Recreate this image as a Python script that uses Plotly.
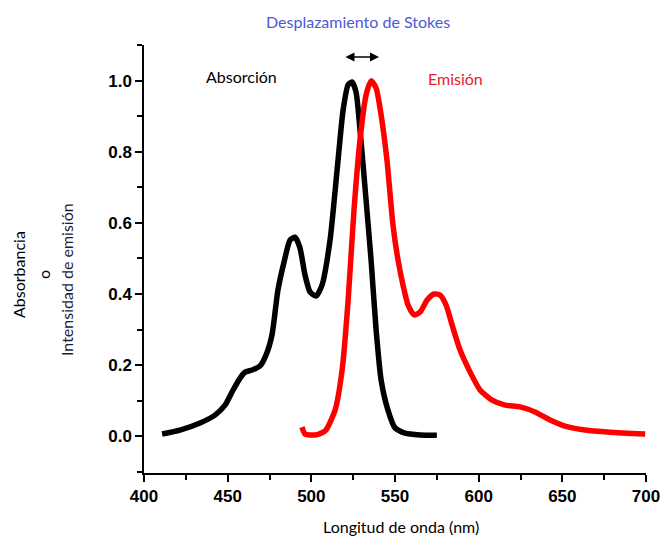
import plotly.graph_objects as go

abs_nm = [410.8, 421.5, 433.5, 442.4, 448.4, 452.6, 457.4, 460.4, 464.6, 469.3, 472.9, 476.5, 480.0, 483.7, 487.3, 490.3, 493.2, 496.2, 499.2, 502.8, 506.4, 511.2, 515.4, 519.0, 522.0, 524.3, 526.7, 529.1, 532.7, 535.7, 538.7, 541.7, 545.8, 550.0, 556.0, 565.0, 575.0]
abs_val = [0.006, 0.017, 0.037, 0.059, 0.087, 0.124, 0.163, 0.18, 0.186, 0.197, 0.228, 0.285, 0.41, 0.49, 0.552, 0.56, 0.53, 0.454, 0.406, 0.394, 0.425, 0.552, 0.749, 0.918, 0.989, 0.997, 0.969, 0.862, 0.665, 0.496, 0.3, 0.158, 0.073, 0.023, 0.008, 0.003, 0.002]

em_nm = [494.4, 496.2, 502.2, 508.2, 514.2, 518.4, 522.0, 525.5, 529.1, 532.7, 535.7, 538.7, 541.7, 545.2, 548.8, 551.8, 554.8, 557.8, 561.4, 565.0, 569.2, 573.3, 576.9, 580.5, 584.1, 588.9, 594.9, 600.8, 608.0, 615.8, 624.7, 633.7, 642.7, 651.6, 663.6, 678.5, 699.5]
em_val = [0.025, 0.006, 0.003, 0.014, 0.073, 0.186, 0.383, 0.637, 0.834, 0.96, 1.0, 0.98, 0.904, 0.777, 0.594, 0.496, 0.425, 0.369, 0.341, 0.349, 0.383, 0.4, 0.397, 0.369, 0.313, 0.242, 0.18, 0.13, 0.101, 0.087, 0.082, 0.068, 0.045, 0.028, 0.017, 0.011, 0.006]

W, H = 662, 537
L, R, T, B = 144, 16, 45, 64
pw, ph = W - L - R, H - T - B

def px(x):
    return (x - L) / pw

def py(y):
    return (H - B - y) / ph

fig = go.Figure()
fig.add_trace(go.Scatter(x=abs_nm, y=abs_val, mode="lines",
                         line=dict(color="black", width=5.5, shape="spline", smoothing=0.6),
                         showlegend=False))
fig.add_trace(go.Scatter(x=em_nm, y=em_val, mode="lines",
                         line=dict(color="#ff0000", width=5.5, shape="spline", smoothing=0.6),
                         showlegend=False))

tf = dict(family="Liberation Sans, Arial", size=17, color="black", weight="bold")
fig.update_xaxes(range=[400, 700], showline=True, linecolor="black", linewidth=1.5,
                 ticks="outside", tickcolor="black", ticklen=7, tickwidth=1.5,
                 tick0=400, dtick=50, tickfont=tf, automargin=False,
                 minor=dict(ticks="outside", dtick=25, ticklen=5, tickcolor="black", tickwidth=1.5),
                 showgrid=False, zeroline=False)
fig.update_yaxes(range=[-0.104, 1.101], showline=True, linecolor="black", linewidth=1.5,
                 ticks="outside", tickcolor="black", ticklen=7, tickwidth=1.5,
                 tick0=0, dtick=0.2, tickformat=".1f", tickfont=tf, automargin=False,
                 minor=dict(ticks="outside", dtick=0.1, ticklen=5, tickcolor="black", tickwidth=1.5),
                 showgrid=False, zeroline=False)

lab = "Lato, Open Sans, sans-serif"
ann = [
    dict(text="Desplazamiento de Stokes", x=px(358), y=py(22), font=dict(family=lab, size=16, color="#4a5bd4")),
    dict(text="Absorción", x=px(241), y=py(76), font=dict(family=lab, size=16, color="black")),
    dict(text="Emisión", x=px(455), y=py(78), font=dict(family=lab, size=16, color="#e8202a")),
    dict(text="Longitud de onda (nm)", x=px(401), y=py(526), font=dict(family=lab, size=16, color="black")),
    dict(text="Absorbancia", x=px(18), y=py(275), textangle=-90, font=dict(family=lab, size=16, color="black")),
    dict(text="o", x=px(43), y=py(275), textangle=-90, font=dict(family=lab, size=16, color="black")),
    dict(text="Intensidad de emisión", x=px(66), y=py(280), textangle=-90, font=dict(family=lab, size=16, color="#1a1a3a")),
]
for a in ann:
    a.update(xref="paper", yref="paper", showarrow=False, xanchor="center", yanchor="middle")
    fig.add_annotation(**a)

fig.add_annotation(xref="paper", yref="paper", axref="pixel", ayref="pixel",
                   x=px(379), y=py(57), ax=-35, ay=0, text="",
                   showarrow=True, arrowhead=2, arrowside="end+start",
                   arrowsize=1.2, arrowwidth=1.5, arrowcolor="black")

fig.update_layout(width=W, height=H, margin=dict(l=L, r=R, t=T, b=B, autoexpand=False),
                  plot_bgcolor="white", paper_bgcolor="white")
fig.write_html("out.html")
